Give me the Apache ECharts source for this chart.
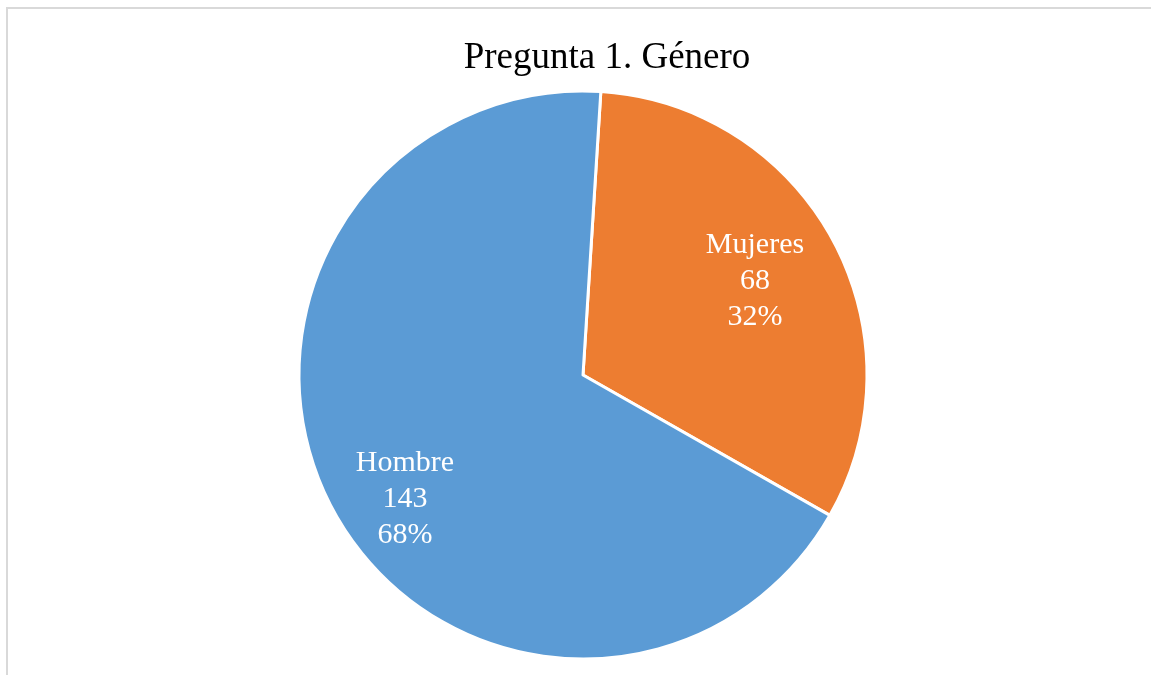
<!DOCTYPE html>
<html>
<head>
<meta charset="utf-8">
<script src="https://cdn.jsdelivr.net/npm/echarts@6/dist/echarts.min.js"></script>
<style>
    html, body { margin: 0; padding: 0; background: #fff; overflow: hidden; }
    #frame { position: absolute; left: 6px; top: 7px; width: 1300px; height: 800px;
             border-left: 2px solid #d9d9d9; border-top: 2px solid #d9d9d9; }
    #main { position: absolute; left: 0; top: 0; width: 1151px; height: 675px; }
</style>
</head>
<body>
<div id="frame"></div>
<div id="main"></div>
<script>
/*Pregunta 1 - genero*/
var categories = ['Mujeres', 'Hombre'];
var counts = [68, 143];
var colors = ['#ED7D31', '#5B9BD5'];
// ajuste fino de etiquetas (dx, dy)
var labelShift = [[-11, 5], [5, 25]];

var chart = echarts.init(document.getElementById('main'));

var pieData = [];
for (var i = 0; i < categories.length; i++) {
    pieData.push({
        name: categories[i],
        value: counts[i],
        itemStyle: { color: colors[i] }
    });
}

var center = [583, 375];
var option = {
    backgroundColor: 'transparent',
    animation: false,
    title: {
        text: 'Pregunta 1. Género',
        left: 602,
        top: 35,
        textAlign: 'center',
        textStyle: {
            fontFamily: 'Liberation Serif',
            fontWeight: 'normal',
            fontSize: 37,
            color: '#000'
        }
    },
    series: [
        {
            name: 'Genero',
            type: 'pie',
            center: center,
            radius: [0, 284],
            startAngle: 86.4,
            clockwise: true,
            silent: true,
            data: pieData,
            label: { show: false },
            labelLine: { show: false },
            itemStyle: { borderColor: '#fff', borderWidth: 3 }
        },
        {
            // solo etiquetas
            name: 'etiquetas',
            type: 'pie',
            center: center,
            radius: [126, 284],
            startAngle: 86.4,
            clockwise: true,
            silent: true,
            percentPrecision: 0,
            data: pieData.map(function (d) {
                return { name: d.name, value: d.value, itemStyle: { color: 'rgba(0,0,0,0)' } };
            }),
            label: {
                show: true,
                position: 'inside',
                formatter: '{b}\n{c}\n{d}%',
                fontFamily: 'Liberation Serif',
                fontSize: 30,
                lineHeight: 36,
                color: '#fff',
                align: 'center'
            },
            labelLine: { show: false },
            labelLayout: function (params) {
                var s = labelShift[params.dataIndex];
                return { dx: s[0], dy: s[1] };
            }
        }
    ]
};
chart.setOption(option);
</script>
</body>
</html>
